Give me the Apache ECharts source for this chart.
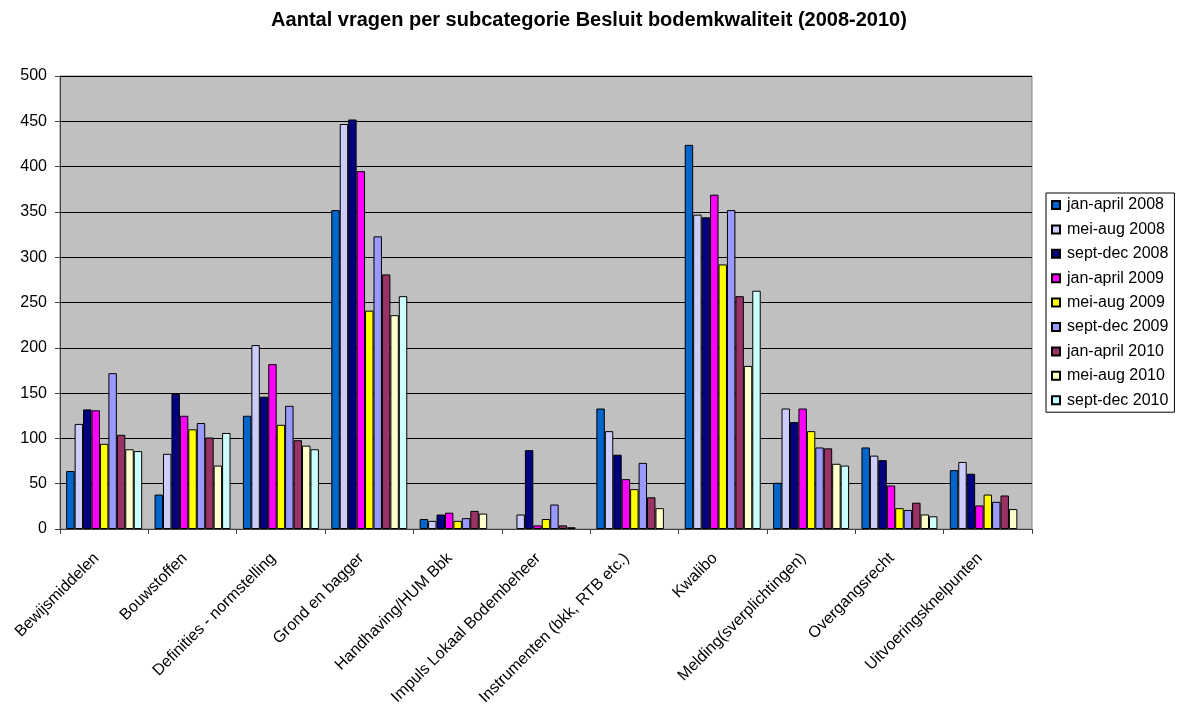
<!DOCTYPE html>
<html>
<head>
<meta charset="utf-8">
<script src="https://cdn.jsdelivr.net/npm/echarts@6/dist/echarts.min.js"></script>
<style>
  html, body { margin: 0; padding: 0; background: #fff; }
  #chart { width: 1178px; height: 704px; }
</style>
</head>
<body>
<div id="chart"></div>
<script>
const categories = [
  'Bewijsmiddelen', 'Bouwstoffen', 'Definities - normstelling', 'Grond en bagger',
  'Handhaving/HUM Bbk', 'Impuls Lokaal Bodembeheer', 'Instrumenten (bkk, RTB etc.)',
  'Kwalibo', 'Melding(sverplichtingen)', 'Overgangsrecht', 'Uitvoeringsknelpunten'
]

// one array per period, values per subcategorie (null = geen balk)
const janApril2008 = [64, 38, 125, 352, 11, null, 133, 424, 51, 90, 65]
const meiAug2008 = [116, 83, 203, 447, 9, 16, 108, 347, 133, 81, 74]
const septDec2008 = [132, 149, 146, 452, 16, 87, 82, 344, 118, 76, 61]
const janApril2009 = [131, 125, 182, 395, 18, 4, 55, 369, 133, 48, 26]
const meiAug2009 = [94, 110, 115, 241, 9, 11, 44, 292, 108, 23, 38]
const septDec2009 = [172, 117, 136, 323, 12, 27, 73, 352, 90, 21, 30]
const janApril2010 = [104, 101, 98, 281, 20, 4, 35, 257, 89, 29, 37]
const meiAug2010 = [88, 70, 92, 236, 17, 2, 23, 180, 72, 16, 22]
const septDec2010 = [86, 106, 88, 257, null, null, null, 263, 70, 14, null]

const seriesNames = [
  'jan-april 2008', 'mei-aug 2008', 'sept-dec 2008',
  'jan-april 2009', 'mei-aug 2009', 'sept-dec 2009',
  'jan-april 2010', 'mei-aug 2010', 'sept-dec 2010'
]
const seriesData = [
  janApril2008, meiAug2008, septDec2008,
  janApril2009, meiAug2009, septDec2009,
  janApril2010, meiAug2010, septDec2010
]
const colors = [
  '#0066CC', '#CCCCFF', '#000080',
  '#FF00FF', '#FFFF00', '#9999FF',
  '#993366', '#FFFFCC', '#CCFFFF'
]
const yTicks = [0, 50, 100, 150, 200, 250, 300, 350, 400, 450, 500]

const font = 'Arial, "Liberation Sans", sans-serif'

const chart = echarts.init(document.getElementById('chart'))
const option = {
  animation: false,
  title: {
    text: 'Aantal vragen per subcategorie Besluit bodemkwaliteit (2008-2010)',
    left: 'center',
    top: 5,
    textStyle: {
      fontFamily: font,
      fontSize: 20,
      fontWeight: 'bold',
      color: '#000',
    },
  },
  legend: {
    orient: 'vertical',
    left: 1046,
    top: 193,
    data: seriesNames,
    icon: 'rect',
    itemWidth: 8,
    itemHeight: 8,
    itemGap: 8.4,
    padding: [4, 6, 4, 5],
    borderColor: '#000',
    borderWidth: 1,
    backgroundColor: '#fff',
    textStyle: {
      fontFamily: font,
      fontSize: 16,
      color: '#000',
      lineHeight: 16,
      padding: [0, 0, 0, 2],
    },
  },
  grid: {
    left: 60,
    right: 146,
    top: 76,
    bottom: 175,
    outerBoundsMode: 'none',
    containLabel: false,
    show: true,
    backgroundColor: '#C0C0C0',
    borderColor: '#808080',
    borderWidth: 1,
  },
  xAxis: {
    type: 'category',
    data: categories,
    axisLine: { lineStyle: { color: '#404040', width: 1 } },
    axisTick: { show: true, length: 5, lineStyle: { color: '#404040' } },
    axisLabel: {
      interval: 0,
      rotate: 45,
      margin: 19,
      padding: [0, 11, 0, 0],
      fontFamily: font,
      fontSize: 16,
      color: '#000',
    },
  },
  yAxis: {
    type: 'value',
    min: yTicks[0],
    max: yTicks[yTicks.length - 1],
    interval: yTicks[1] - yTicks[0],
    axisLine: { show: true, lineStyle: { color: '#404040', width: 1 } },
    axisTick: { show: true, length: 5, lineStyle: { color: '#404040' } },
    axisLabel: {
      margin: 13,
      fontFamily: font,
      fontSize: 16,
      color: '#000',
    },
    splitLine: { lineStyle: { color: '#000', width: 1 } },
  },
  series: seriesNames.map((name, i) => ({
    name: name,
    type: 'bar',
    data: seriesData[i],
    barGap: '0%',
    barCategoryGap: '14%',
    itemStyle: {
      color: colors[i],
      borderColor: '#000',
      borderWidth: 1,
    },
  })),
}
chart.setOption(option)
</script>
</body>
</html>
